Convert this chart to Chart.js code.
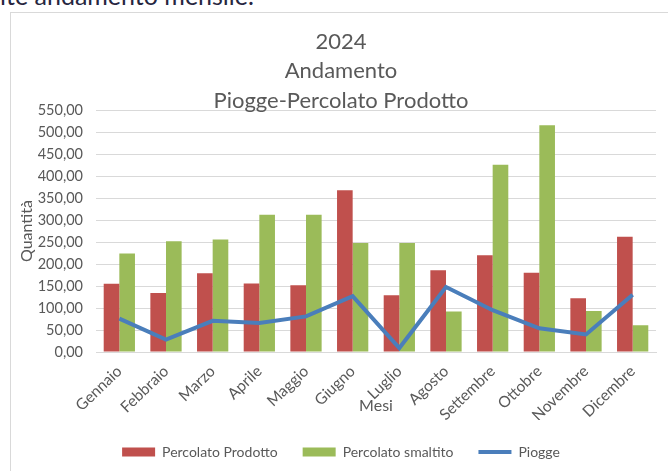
<!DOCTYPE html>
<html>
<head>
<meta charset="utf-8">
<script src="https://cdn.jsdelivr.net/npm/chart.js@4/dist/chart.umd.min.js"></script>
<style>
  html, body { margin: 0; padding: 0; background: #ffffff; overflow: hidden; }
  #wrap { position: relative; width: 668px; height: 471px; }
  #doc { position: absolute; left: 0; top: -20px; font-family: Lato, sans-serif; font-size: 25px; color: #262640; white-space: nowrap; }
  #frame { position: absolute; left: 10px; top: 12px; width: 670px; height: 470px; border-left: 1px solid #d9d9d9; border-top: 1px solid #d9d9d9; }
  canvas { position: absolute; left: 0; top: 0; }
</style>
</head>
<body>
<div id="wrap">
  <div id="doc">ite andamento mensile.</div>
  <div id="frame"></div>
  <canvas id="c" width="668" height="471"></canvas>
</div>
<script>
const categories = ['Gennaio','Febbraio','Marzo','Aprile','Maggio','Giugno','Luglio','Agosto','Settembre','Ottobre','Novembre','Dicembre'];
const percolatoProdotto = [155, 134, 179, 156, 152, 368, 129, 186, 220, 180, 122, 262];
const percolatoSmaltito = [224, 252, 256, 312, 312, 248, 248, 92, 426, 516, 93, 61];
const piogge = [76, 28, 71, 66, 81, 127, 9, 148, 95, 54, 40, 130];
const titleLines = ['2024', 'Andamento', 'Piogge-Percolato Prodotto'];

const txt = '#595959';
const fam = 'Lato, sans-serif';

new Chart(document.getElementById('c'), {
  type: 'bar',
  data: {
    labels: categories,
    datasets: [
      { label: 'Percolato Prodotto', data: percolatoProdotto, backgroundColor: '#c0504d', borderWidth: 0, order: 1,
        categoryPercentage: 0.67, barPercentage: 1.0, pointStyle: 'rect' },
      { label: 'Percolato smaltito', data: percolatoSmaltito, backgroundColor: '#9bbb59', borderWidth: 0, order: 1,
        categoryPercentage: 0.67, barPercentage: 1.0, pointStyle: 'rect' },
      { type: 'line', label: 'Piogge', data: piogge, borderColor: '#4a7ebb', backgroundColor: '#4a7ebb',
        borderWidth: 4, pointRadius: 0, pointHoverRadius: 0, tension: 0, order: -1, pointStyle: 'line' }
    ]
  },
  options: {
    responsive: false,
    animation: false,
    layout: { padding: { left: 26, right: 12, top: 0, bottom: 2 } },
    plugins: {
      tooltip: { enabled: false },
      title: {
        display: true, text: titleLines, color: txt,
        font: { family: fam, size: 22, weight: 'normal', lineHeight: 1.336 },
        padding: { top: 27, bottom: -5 }
      },
      legend: {
        position: 'bottom',
        labels: {
          usePointStyle: true, pointStyleWidth: 33, boxHeight: 9, boxWidth: 33,
          color: txt, font: { family: fam, size: 14 }, padding: 25,
          sort: (a, b) => a.datasetIndex - b.datasetIndex
        }
      }
    },
    scales: {
      x: {
        grid: { display: false, drawTicks: false },
        border: { display: true, color: '#d9d9d9' },
        ticks: { color: txt, font: { family: fam, size: 15.5 }, minRotation: 44, maxRotation: 44, padding: 10, autoSkip: false },
        title: { display: true, text: 'Mesi', color: txt, font: { family: fam, size: 16 }, padding: { top: 0, bottom: 5 } },
        afterFit: (s) => { s.height = 68; }
      },
      y: {
        min: 0, max: 550,
        grid: { color: '#d9d9d9', drawTicks: false },
        border: { display: false },
        ticks: { stepSize: 50, color: txt, font: { family: fam, size: 14.5 }, padding: 13,
          callback: (v) => Number(v).toFixed(2).replace('.', ',') },
        title: { display: true, text: 'Quantità', color: txt, font: { family: fam, size: 16 }, padding: { top: -9, bottom: 0 } },
        afterFit: (s) => { s.width = 70; }
      }
    }
  }
});
</script>
</body>
</html>
